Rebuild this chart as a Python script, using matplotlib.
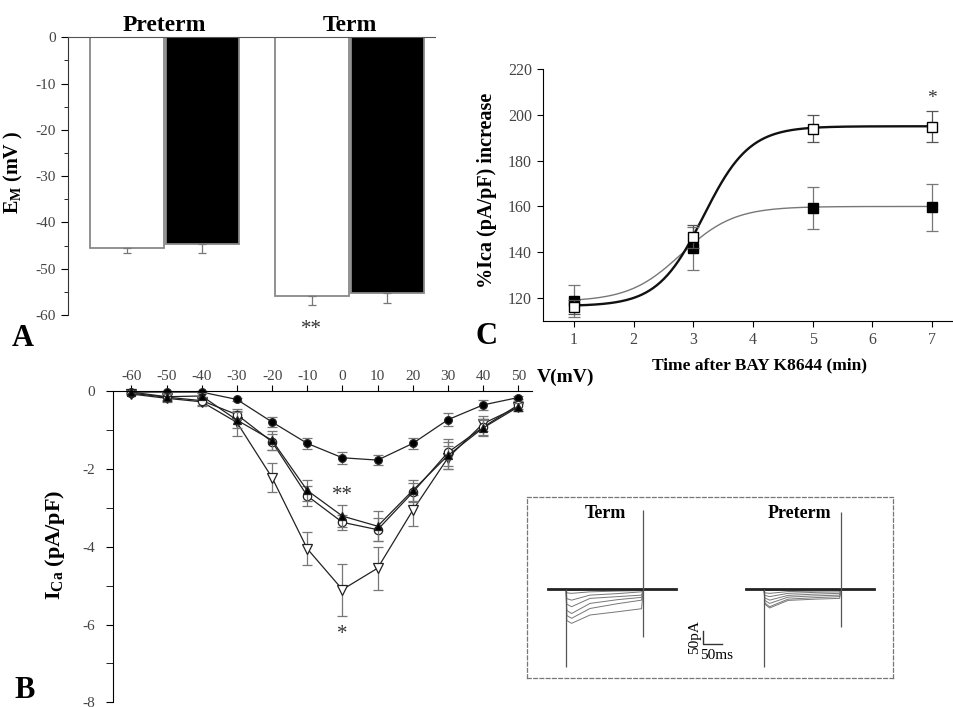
import numpy as np
import matplotlib
matplotlib.use('Agg')
import matplotlib.pyplot as plt
from matplotlib.ticker import MultipleLocator

plt.rcParams['font.family'] = ['Liberation Serif', 'DejaVu Serif']
plt.rcParams['mathtext.fontset'] = 'custom'
plt.rcParams['mathtext.rm'] = 'Liberation Serif'
plt.rcParams['mathtext.bf'] = 'Liberation Serif:bold'
plt.rcParams['mathtext.it'] = 'Liberation Serif:italic'
plt.rcParams['axes.unicode_minus'] = False

TICK_GRAY = '#444444'
ERR_GRAY = '#777777'

# ---- Panel A: resting membrane potential ----
em_groups = ['Preterm', 'Term']
em_means = [-45.5, -44.7, -55.9, -55.3]
em_sem = [1.2, 2.0, 1.95, 2.0]
em_colors = ['white', 'black', 'white', 'black']

# ---- Panel B: I-V relation ----
volt = [-60, -50, -40, -30, -20, -10, 0, 10, 20, 30, 40, 50]
ica_fc = [-0.02, -0.02, -0.02, -0.21, -0.79, -1.34, -1.71, -1.77, -1.34, -0.73, -0.35, -0.16]
ica_fc_err = [0.03, 0.03, 0.03, 0.05, 0.14, 0.15, 0.15, 0.13, 0.15, 0.16, 0.13, 0.05]
ica_ft = [-0.02, -0.14, -0.12, -0.74, -1.26, -2.55, -3.21, -3.47, -2.55, -1.65, -0.94, -0.40]
ica_ft_err = [0.03, 0.08, 0.08, 0.20, 0.25, 0.27, 0.28, 0.38, 0.27, 0.35, 0.20, 0.10]
ica_oc = [-0.05, -0.15, -0.24, -0.60, -1.30, -2.69, -3.37, -3.56, -2.60, -1.57, -0.92, -0.35]
ica_oc_err = [0.03, 0.10, 0.10, 0.10, 0.20, 0.25, 0.20, 0.30, 0.25, 0.35, 0.20, 0.10]
ica_ot = [-0.07, -0.18, -0.27, -0.80, -2.22, -4.05, -5.10, -4.55, -3.06, -1.71, -0.83, -0.40]
ica_ot_err = [0.03, 0.10, 0.10, 0.35, 0.37, 0.42, 0.67, 0.55, 0.40, 0.30, 0.20, 0.10]

# ---- Panel C: BAY K8644 time course ----
bay_time = [1, 3, 5, 7]
bay_open = [116.2, 146.8, 194.0, 194.8]
bay_open_err = [3.0, 5.0, 6.0, 6.8]
bay_filled = [118.8, 141.7, 159.3, 159.7]
bay_filled_err = [7.0, 9.3, 9.0, 10.3]
# Boltzmann fit parameters: bottom, top, x50, slope
fit_open = (116.5, 195.0, 3.17, 0.385)
fit_filled = (118.5, 160.0, 2.80, 0.44)

# ---- Inset: current traces (pA) at times after step onset (ms) ----
trace_t = [2, 15, 65, 140, 205]
term_traces = [
    [-5, -5, -3, -2, -1],
    [-15, -17, -11, -8, -6],
    [-38, -44, -24, -18, -11],
    [-60, -70, -37, -30, -24],
    [-85, -97, -57, -42, -33],
    [-105, -116, -77, -58, -44],
    [-125, -136, -103, -90, -78],
]
preterm_traces = [
    [-5, -6, -4, -3, -2],
    [-15, -17, -10, -8, -6],
    [-25, -30, -17, -13, -11],
    [-35, -44, -25, -20, -17],
    [-45, -57, -32, -27, -24],
    [-55, -70, -40, -34, -30],
    [-60, -75, -45, -40, -37],
]
step_ms = 210
spikes_term = (-308, 313, -190)
spikes_preterm = (-308, 307, -150)


def boltzmann(x, p):
    a1, a2, x0, dx = p
    return a2 + (a1 - a2) / (1 + np.exp((x - x0) / dx))


W, H = 954, 707
fig = plt.figure(figsize=(W / 100, H / 100), dpi=100)


def px_axes(x0, y0, x1, y1):
    return fig.add_axes([x0 / W, 1 - y1 / H, (x1 - x0) / W, (y1 - y0) / H])


# ================= Panel A =================
axA = px_axes(68, 37.3, 435, 315)
pos = [0, 1, 2.45, 3.45]
axA.bar(pos, em_means, width=0.97, color=em_colors, edgecolor='#888888', linewidth=1.3)
axA.errorbar(pos, em_means, yerr=[em_sem, [0] * 4], fmt='none', ecolor=ERR_GRAY,
             elinewidth=0.9, capsize=3, capthick=0.9)
axA.set_xlim(-0.78, 4.08)
axA.set_ylim(-60, 0)
for s in ['bottom', 'right']:
    axA.spines[s].set_visible(False)
axA.spines['top'].set_color('#555555')
axA.spines['left'].set_color('#333333')
axA.set_xticks([])
axA.yaxis.set_major_locator(MultipleLocator(10))
axA.yaxis.set_minor_locator(MultipleLocator(5))
axA.tick_params(axis='y', which='major', direction='out', length=5, labelsize=11, labelcolor=TICK_GRAY)
axA.tick_params(axis='y', which='minor', direction='out', length=3)
axA.set_yticklabels([f'{int(v)}' for v in axA.get_yticks()])
axA.text(0.5, 0.3, em_groups[0], ha='center', va='bottom', fontsize=17, fontweight='bold', clip_on=False)
axA.text(2.95, 0.3, em_groups[1], ha='center', va='bottom', fontsize=17, fontweight='bold', clip_on=False)
axA.text(pos[2], -61.0, '**', ha='center', va='top', fontsize=15, color='#333333', clip_on=False)
axA.set_ylabel(r'$\mathbf{E_M}$ (mV )', fontsize=14.5, fontweight='bold')
axA.yaxis.set_label_coords(-0.118, 0.515)
fig.text(23 / W, 1 - 338 / H, 'A', fontsize=22, fontweight='bold', ha='center', va='center')

# ================= Panel C =================
axC = px_axes(543, 69, 954, 321)
xs = np.linspace(1, 7, 200)
axC.plot(xs, boltzmann(xs, fit_filled), color='#777777', lw=1.0)
axC.plot(xs, boltzmann(xs, fit_open), color='#111111', lw=1.7)
axC.errorbar(bay_time, bay_filled, yerr=bay_filled_err, fmt='s', ms=6.5, mfc='black', mec='black',
             ecolor=ERR_GRAY, elinewidth=0.9, capsize=4, capthick=0.9, zorder=3)
axC.errorbar(bay_time, bay_open, yerr=bay_open_err, fmt='s', ms=6.5, mfc='white', mec='black',
             ecolor='#555555', elinewidth=0.9, capsize=4, capthick=0.9, zorder=4)
axC.set_xlim(0.48, 7.37)
axC.set_ylim(110, 220)
for s in ['top', 'right']:
    axC.spines[s].set_visible(False)
axC.spines['left'].set_bounds(110, 220)
axC.set_xticks(range(1, 8))
axC.set_yticks(range(120, 221, 20))
axC.tick_params(direction='out', length=4, labelsize=11.5, labelcolor=TICK_GRAY, pad=4)
axC.text(7, 207, '*', ha='center', va='center', fontsize=14, color='#333333')
axC.set_xlabel('Time after BAY K8644 (min)', fontsize=12.5, fontweight='bold')
axC.xaxis.set_label_coords(0.526, -0.143)
axC.set_ylabel('%Ica (pA/pF) increase', fontsize=14.5, fontweight='bold')
axC.yaxis.set_label_coords(-0.112, 0.52)
fig.text(487 / W, 1 - 336 / H, 'C', fontsize=22, fontweight='bold', ha='center', va='center')

# ================= Panel B =================
axB = px_axes(112.7, 391.3, 531.7, 702.3)
series = [
    (ica_fc, ica_fc_err, 'o', 'black', 5.5),
    (ica_ot, ica_ot_err, 'v', 'white', 7),
    (ica_oc, ica_oc_err, 'o', 'white', 6),
    (ica_ft, ica_ft_err, '^', 'black', 6),
]
for vals, err, mk, fc, ms in series:
    axB.errorbar(volt, vals, yerr=err, fmt='none', ecolor=ERR_GRAY, elinewidth=0.9,
                 capsize=3.5, capthick=0.9, clip_on=False)
    axB.plot(volt, vals, '-', color='#222222', lw=0.9, marker=mk, ms=ms, mfc=fc,
             mec='#222222', mew=0.9, clip_on=False)
axB.set_xlim(-65.3, 53.8)
axB.set_ylim(-8, 0)
for s in ['bottom', 'right']:
    axB.spines[s].set_visible(False)
axB.xaxis.tick_top()
axB.set_xticks(volt)
axB.yaxis.set_major_locator(MultipleLocator(2))
axB.yaxis.set_minor_locator(MultipleLocator(1))
axB.tick_params(axis='x', direction='out', length=4, labelsize=11, labelcolor=TICK_GRAY, pad=2)
axB.tick_params(axis='y', which='major', direction='out', length=5, labelsize=11, labelcolor=TICK_GRAY, pad=8)
axB.tick_params(axis='y', which='minor', direction='out', length=5)
axB.set_yticklabels([f'{int(v)}' for v in axB.get_yticks()])
axB.text(1.012, 1.045, 'V(mV)', transform=axB.transAxes, ha='left', va='center',
         fontsize=14, fontweight='bold')
axB.text(0, -2.68, '**', ha='center', va='center', fontsize=15, color='#333333')
axB.text(0, -6.25, '*', ha='center', va='center', fontsize=15, color='#333333')
axB.set_ylabel(r'$\mathbf{I_{Ca}}$ (pA/pF)', fontsize=16, fontweight='bold')
axB.yaxis.set_label_coords(-0.109, 0.506)
fig.text(25 / W, 1 - 690 / H, 'B', fontsize=22, fontweight='bold', ha='center', va='center')

# ================= Inset traces =================
axI = px_axes(526.7, 497.3, 893.3, 678.3)
axI.set_xlim(0, 996)
axI.set_ylim(-354, 364)
axI.set_xticks([])
axI.set_yticks([])
for s in axI.spines.values():
    s.set_linestyle((0, (3, 2)))
    s.set_color('#777777')
    s.set_linewidth(0.9)


def draw_traces(ax, onset, traces, spikes):
    for tr in traces:
        xs_tr = [onset] + [onset + t for t in trace_t] + [onset + step_ms]
        ys_tr = [0] + tr + [0]
        ax.plot(xs_tr, ys_tr, color='#777777', lw=0.7)
    ax.plot([onset - 50, onset + step_ms + 88], [0, 0], color='#222222', lw=2.0)
    ax.vlines(onset, spikes[0], 0, color='#555555', lw=0.9)
    ax.vlines(onset + step_ms, spikes[2], spikes[1], color='#555555', lw=0.9)


draw_traces(axI, 107, term_traces, spikes_term)
draw_traces(axI, 645, preterm_traces, spikes_preterm)
axI.text(215, 300, 'Term', ha='center', va='center', fontsize=13, fontweight='bold')
axI.text(740, 300, 'Preterm', ha='center', va='center', fontsize=13, fontweight='bold')
# scale bar: 50 pA, 50 ms
axI.plot([480, 480, 530], [-166, -216, -216], color='#333333', lw=1.0)
axI.text(455, -191, '50pA', rotation=90, ha='center', va='center', fontsize=11)
axI.text(517, -262, '50ms', ha='center', va='center', fontsize=11)

fig.savefig('out.png', dpi=100)
